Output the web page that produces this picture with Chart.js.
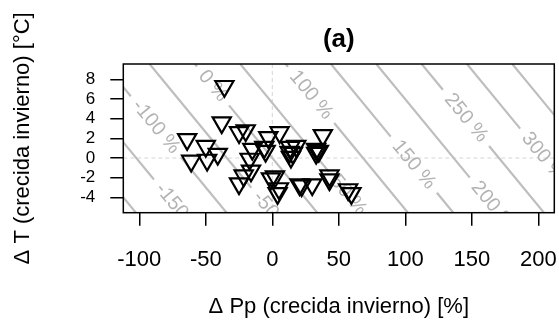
<!DOCTYPE html>
<html><head><meta charset="utf-8">
<script src="https://cdn.jsdelivr.net/npm/chart.js@4/dist/chart.umd.min.js"></script>
<style>html,body{margin:0;padding:0;background:#fff}#wrap{width:559px;height:328px}</style>
</head><body><div id="wrap"><canvas id="c" width="559" height="328"></canvas></div>
<script>
// ---- data ----
const dP = [-36, -38, -64, -50, -61, -49, -41, -25, -20, -15, -6, -5, -17, -3, 5.5, -16, -21.5, -25, -1, 2, 5, 4, 13.5, 13, 14, 18, 15.5, 20.5, 22, 30, 38, 33, 33, 35, 43, 43, 57, 59.5];
const dT = [7.3, 3.6, 1.9, 1.2, -0.3, -0.2, 0.4, 2.6, 2.8, 0.9, 1.1, 0.7, -0.1, 2.1, 2.6, -1.3, -1.8, -2.6, -2.1, -1.9, -3.1, -3.6, 1.1, 0.6, 0.1, 1.2, 0.5, -2.7, -2.8, -2.7, 2.3, 0.9, 0.5, 0.7, -1.8, -2.2, -3.2, -3.6];
const xTicks = [-100, -50, 0, 50, 100, 150, 200];
const yTicks = [-4, -2, 0, 2, 4, 6, 8];
const contourLevels = [-200, -150, -100, -50, 0, 50, 100, 150, 200, 250, 300, 350];
const labelLevels = [-150, -100, -50, 0, 50, 100, 150, 200, 250, 300];
const labelT = [-5.3, 3.17, -5.7, 7.33, -3.8, 6.41, -0.68, -4.85, 4.08, 0.13];
const coefP = 1.467, coefT = 8.92;   // ΔQ = coefP*ΔPp + coefT*ΔT

const FAM = '"Liberation Sans", Arial, sans-serif';

const contourPlugin = {
  id: 'contours',
  beforeDatasetsDraw(chart) {
    const {ctx, chartArea: a, scales: {x, y}} = chart;
    ctx.save();
    ctx.beginPath(); ctx.rect(a.left, a.top, a.right - a.left, a.bottom - a.top); ctx.clip();
    ctx.strokeStyle = '#d4d4d4'; ctx.lineWidth = 1; ctx.setLineDash([4, 3]);
    const x0 = x.getPixelForValue(0), y0 = y.getPixelForValue(0);
    ctx.beginPath(); ctx.moveTo(x0, a.top); ctx.lineTo(x0, a.bottom); ctx.stroke();
    ctx.beginPath(); ctx.moveTo(a.left, y0); ctx.lineTo(a.right, y0); ctx.stroke();
    ctx.setLineDash([]);
    ctx.font = '20px ' + FAM;
    const T0 = y.max, T1 = y.min;
    contourLevels.forEach(L => {
      const sx = x.getPixelForValue((L - coefT * T0) / coefP), sy = y.getPixelForValue(T0);
      const ex = x.getPixelForValue((L - coefT * T1) / coefP), ey = y.getPixelForValue(T1);
      const len = Math.hypot(ex - sx, ey - sy), ux = (ex - sx) / len, uy = (ey - sy) / len;
      let segs = [[0, len]];
      const li = labelLevels.indexOf(L);
      if (li >= 0) {
        const T = labelT[li];
        const cx = x.getPixelForValue((L - coefT * T) / coefP), cy = y.getPixelForValue(T);
        const txt = L + ' %';
        const w = ctx.measureText(txt).width;
        const t = (cx - sx) * ux + (cy - sy) * uy;
        segs = [[0, t - w / 2 - 8], [t + w / 2 + 8, len]];
        ctx.save();
        ctx.translate(cx, cy); ctx.rotate(Math.atan2(uy, ux));
        ctx.fillStyle = '#b3b3b3'; ctx.textAlign = 'center'; ctx.textBaseline = 'middle';
        ctx.fillText(txt, 0, 0);
        ctx.restore();
      }
      ctx.strokeStyle = '#bebebe'; ctx.lineWidth = 2.2;
      segs.forEach(([t0, t1]) => {
        if (t1 <= t0) return;
        ctx.beginPath(); ctx.moveTo(sx + ux * t0, sy + uy * t0); ctx.lineTo(sx + ux * t1, sy + uy * t1); ctx.stroke();
      });
    });
    ctx.restore();
  },
  afterDatasetsDraw(chart) {
    const {ctx, chartArea: a} = chart;
    ctx.save();
    ctx.strokeStyle = '#000'; ctx.lineWidth = 1.5;
    ctx.strokeRect(a.left, a.top, a.right - a.left, a.bottom - a.top);
    ctx.restore();
  }
};

new Chart(document.getElementById('c'), {
  type: 'scatter',
  data: {
    datasets: [{
      data: dP.map((p, i) => ({x: p, y: dT[i]})),
      pointStyle: 'triangle', rotation: 180, pointRadius: 10.5, pointHoverRadius: 10.5,
      borderColor: '#000', backgroundColor: 'rgba(0,0,0,0)', borderWidth: 2.2, pointBorderWidth: 2.2
    }]
  },
  options: {
    responsive: false, devicePixelRatio: 1, animation: false,
    layout: {autoPadding: false, padding: {left: 0, right: 4.7, top: 0, bottom: 0}},
    plugins: {
      legend: {display: false}, tooltip: {enabled: false},
      title: {display: true, text: '(a)', fullSize: false, color: '#000',
        font: {family: FAM, size: 26, weight: 'bold'}, padding: {top: 24.4, bottom: 8.4}}
    },
    scales: {
      x: {
        type: 'linear', min: -112, max: 212,
        afterBuildTicks: s => { s.ticks = xTicks.map(v => ({value: v})); },
        afterFit: s => { s.height = 115.3; s.paddingLeft = 0; s.paddingRight = 0; },
        grid: {drawOnChartArea: false, drawTicks: true, tickLength: 13, color: '#000', lineWidth: 1.5},
        border: {display: false},
        ticks: {autoSkip: false, maxRotation: 0, minRotation: 0, padding: 21, color: '#000',
          font: {family: FAM, size: 22}, callback: v => String(v)},
        title: {display: true, text: 'Δ Pp (crecida invierno) [%]', color: '#000',
          font: {family: FAM, size: 22}, padding: {top: 0, bottom: 8}}
      },
      y: {
        type: 'linear', min: -5.56, max: 9.56,
        afterBuildTicks: s => { s.ticks = yTicks.map(v => ({value: v})); },
        afterFit: s => { s.width = 123.3; s.paddingTop = 0; s.paddingBottom = 0; },
        grid: {drawOnChartArea: false, drawTicks: true, tickLength: 13, color: '#000', lineWidth: 1.5},
        border: {display: false},
        ticks: {autoSkip: false, padding: 15, color: '#000',
          font: {family: FAM, size: 17}, callback: v => String(v)},
        title: {display: true, text: 'Δ T (crecida invierno) [°C]', color: '#000',
          font: {family: FAM, size: 22}, padding: {top: 10, bottom: 0}}
      }
    }
  },
  plugins: [contourPlugin]
});
</script></body></html>
